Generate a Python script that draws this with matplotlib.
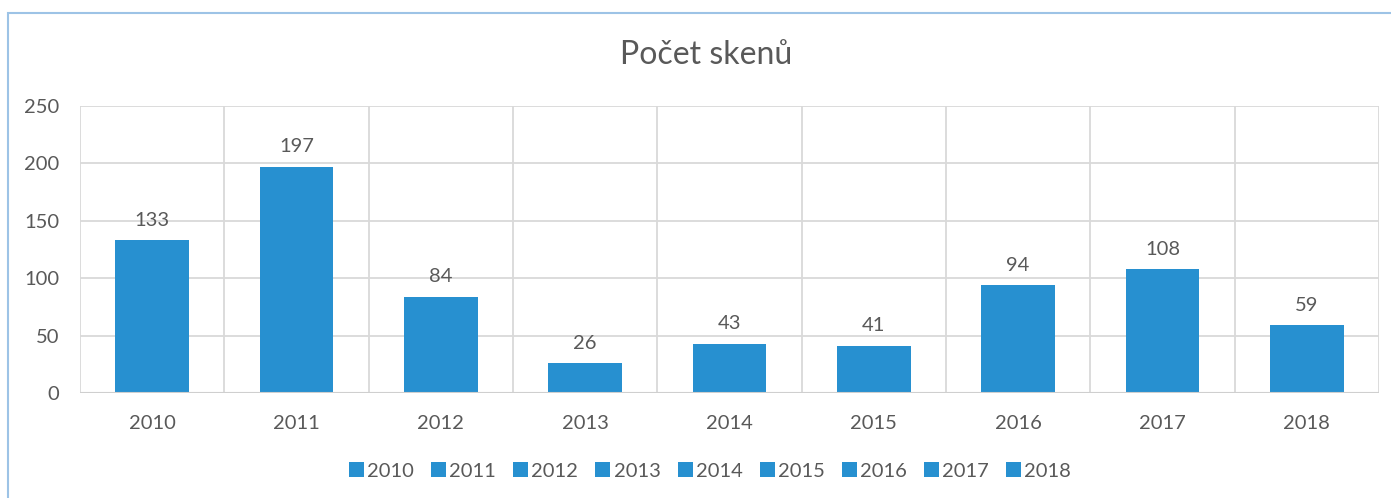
import matplotlib.pyplot as plt
from matplotlib.patches import Patch, Rectangle
import numpy as np

years = ['2010', '2011', '2012', '2013', '2014', '2015', '2016', '2017', '2018']
scans = [133, 197, 84, 26, 43, 41, 94, 108, 59]
yticks = [0, 50, 100, 150, 200, 250]

BAR = '#2790d0'
TXT = '#595959'
GRID = '#d9d9d9'

plt.rcParams['font.family'] = ['Lato', 'DejaVu Sans']

W, H = 1391, 498
fig = plt.figure(figsize=(W / 100, H / 100), dpi=100)
ax = fig.add_axes([80 / W, 1 - 393 / H, (1379 - 80) / W, (393 - 106) / H])

x = np.arange(len(years))
ax.bar(x, scans, width=0.51, color=BAR, zorder=3)
for xi, v in zip(x, scans):
    ax.text(xi, v + 10, str(v), ha='center', va='bottom', fontsize=14.5, color=TXT)

ax.set_xlim(-0.5, len(years) - 0.5)
ax.set_ylim(0, 250)
ax.set_yticks(yticks)
ax.set_xticks(x)
ax.set_xticklabels(years)
ax.tick_params(axis='both', length=0, labelsize=14.5, labelcolor=TXT)
ax.tick_params(axis='x', pad=16)
ax.tick_params(axis='y', pad=15)

# horizontal + vertical grid (category separators)
ax.yaxis.grid(True, color=GRID, lw=1.3, zorder=0)
for b in np.arange(-0.5, len(years), 1.0):
    ax.axvline(b, color=GRID, lw=1.3, zorder=0)
for s in ax.spines.values():
    s.set_visible(False)
ax.axhline(0, color='#cfcfcf', lw=1.5, zorder=4)

fig.text(706 / W, 1 - 55 / H, 'Počet skenů', ha='center', va='center', fontsize=23, color=TXT)

handles = [Patch(facecolor=BAR, label=y) for y in years]
fig.legend(handles=handles, loc='center', bbox_to_anchor=(710 / W, 1 - 471 / H), ncol=9,
           frameon=False, fontsize=14.5, labelcolor=TXT, handlelength=0.75, handleheight=0.75,
           handletextpad=0.15, columnspacing=0.85)

fig.patches.append(Rectangle((8 / W, -0.1), 1.2, 1 - 13 / H + 0.1, transform=fig.transFigure,
                             fill=False, edgecolor='#9dc3e6', lw=1.5))

fig.savefig('out.png', dpi=100)
